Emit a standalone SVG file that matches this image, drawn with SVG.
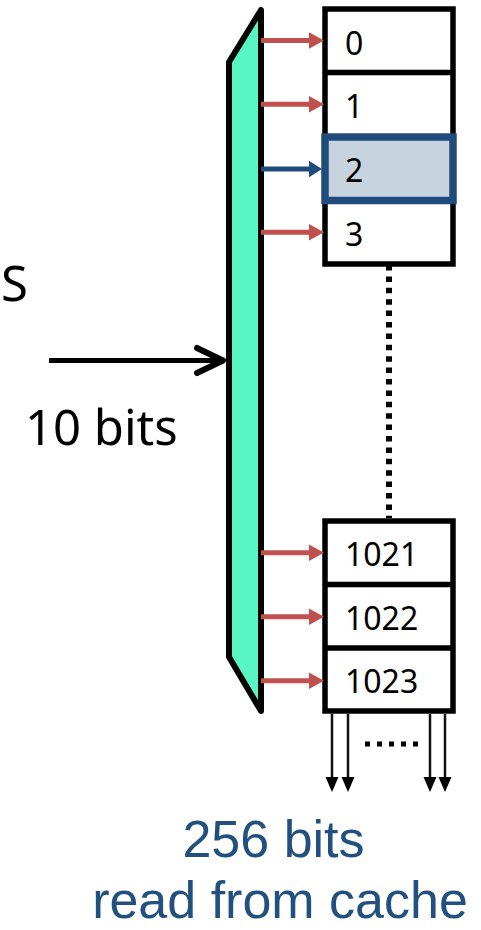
<svg xmlns="http://www.w3.org/2000/svg" width="481" height="930" viewBox="0 0 481 930">
  <defs>
    <style>
      .lbl { font-family: "Noto Sans", "Liberation Sans", sans-serif; fill: #000; }
      .row { font-size: 32px; }
      .big { font-size: 49px; }
      .cap { font-family: "Liberation Sans", Arial, sans-serif; font-size: 52px; fill: #22507F; text-anchor: middle; }
      .cell { fill: #fff; stroke: #000; stroke-width: 5.5; }
      .div { stroke: #000; stroke-width: 5.5; }
      .red line { stroke: #C0504D; stroke-width: 5; }
      .red polygon { fill: #C0504D; }
      .blue line { stroke: #1F4B7D; stroke-width: 5; }
      .blue polygon { fill: #1F4B7D; }
      .out line { stroke: #111; stroke-width: 2.5; }
      .out polygon { fill: #000; }
    </style>
  </defs>

  <!-- decoder -->
  <g id="decoder">
    <polygon points="229,62 261,10 261,711 229,657" fill="#57F6C3" stroke="#000" stroke-width="6" stroke-linejoin="round"/>
  </g>

  <!-- address input -->
  <g id="input-label">
    <text class="lbl big" x="1" y="301">S</text>
    <text class="lbl big" x="25" y="445">10 bits</text>
  </g>

  <!-- cache lines, top block -->
  <g id="block-top">
    <rect class="cell" x="325" y="9" width="128" height="255"/>
    <line class="div" x1="325" y1="72.5" x2="453" y2="72.5"/>
    <line class="div" x1="325" y1="200" x2="453" y2="200"/>
  </g>
  <g id="row-0"><text class="lbl row" x="345" y="55">0</text></g>
  <g id="row-1"><text class="lbl row" x="345" y="118">1</text></g>
  <g id="row-2">
    <rect x="325" y="137" width="128" height="63.5" fill="#C8D3E0" stroke="#1F4B7D" stroke-width="7.5"/>
    <text class="lbl row" x="345" y="182">2</text>
  </g>
  <g id="row-3"><text class="lbl row" x="345" y="246">3</text></g>

  <!-- cache lines, bottom block -->
  <g id="block-bottom">
    <rect class="cell" x="325" y="521" width="128" height="190"/>
    <line class="div" x1="325" y1="584.5" x2="453" y2="584.5"/>
    <line class="div" x1="325" y1="648" x2="453" y2="648"/>
  </g>
  <g id="row-1021"><text class="lbl row" x="345" y="566">1021</text></g>
  <g id="row-1022"><text class="lbl row" x="345" y="630">1022</text></g>
  <g id="row-1023"><text class="lbl row" x="345" y="693">1023</text></g>

  <!-- output caption -->
  <g id="output-label">
    <text class="cap" x="273.5" y="857">256 bits</text>
    <text class="cap" x="280" y="918">read from cache</text>
  </g>

  <g id="connectors">
    <!-- address bus into decoder -->
    <line x1="49" y1="360.5" x2="224" y2="360.5" stroke="#000" stroke-width="5"/>
    <polyline points="197,348 223,360.5 197,373" fill="none" stroke="#000" stroke-width="6" stroke-linecap="round" stroke-linejoin="round"/>

    <!-- word-line selects -->
    <g class="red">
      <line x1="261" y1="40.5" x2="311" y2="40.5"/><polygon points="309,32.3 324,40.5 309,48.7"/>
      <line x1="261" y1="104.3" x2="311" y2="104.3"/><polygon points="309,96 324,104.3 309,112.6"/>
      <line x1="261" y1="232.3" x2="311" y2="232.3"/><polygon points="309,224 324,232.3 309,240.6"/>
      <line x1="261" y1="552.7" x2="311" y2="552.7"/><polygon points="309,544.4 324,552.7 309,561"/>
      <line x1="261" y1="616.7" x2="311" y2="616.7"/><polygon points="309,608.4 324,616.7 309,625"/>
      <line x1="261" y1="680.7" x2="311" y2="680.7"/><polygon points="309,672.4 324,680.7 309,689"/>
    </g>
    <g class="blue">
      <line x1="261" y1="169" x2="311" y2="169"/><polygon points="309,160.7 322,169 309,177.3"/>
    </g>

    <!-- elided rows -->
    <line x1="389" y1="265" x2="389" y2="518" stroke="#000" stroke-width="6" stroke-dasharray="5.5 5.9"/>

    <!-- data out -->
    <g class="out">
      <line x1="332" y1="714" x2="332" y2="779"/><polygon points="325.5,777 338.5,777 332,792"/>
      <line x1="348" y1="714" x2="348" y2="779"/><polygon points="341.5,777 354.5,777 348,792"/>
      <line x1="430" y1="714" x2="430" y2="779"/><polygon points="423.5,777 436.5,777 430,792"/>
      <line x1="445" y1="714" x2="445" y2="779"/><polygon points="438.5,777 451.5,777 445,792"/>
    </g>
    <line x1="365" y1="744" x2="419" y2="744" stroke="#000" stroke-width="5" stroke-dasharray="5 7"/>
  </g>
</svg>
